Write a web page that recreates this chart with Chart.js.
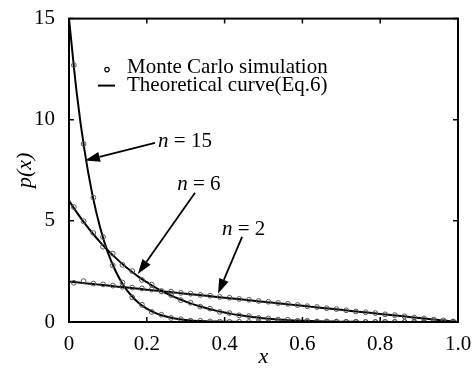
<!DOCTYPE html>
<html>
<head>
<meta charset="utf-8">
<script src="https://cdn.jsdelivr.net/npm/chart.js@4.4.1/dist/chart.umd.min.js"></script>
<style>
  html, body { margin: 0; padding: 0; background: #fff; }
  canvas { display: block; }
</style>
</head>
<body>
<canvas id="myChart" width="474" height="368"></canvas>
<script>
// bin centres of the Monte Carlo histogram
const xSim = [0.0125, 0.0375, 0.0625, 0.0875, 0.1125, 0.1375, 0.1625, 0.1875, 0.2125, 0.2375,
  0.2625, 0.2875, 0.3125, 0.3375, 0.3625, 0.3875, 0.4125, 0.4375, 0.4625, 0.4875,
  0.5125, 0.5375, 0.5625, 0.5875, 0.6125, 0.6375, 0.6625, 0.6875, 0.7125, 0.7375,
  0.7625, 0.7875, 0.8125, 0.8375, 0.8625, 0.8875, 0.9125, 0.9375, 0.9625, 0.9875];
const simN15 = [12.70, 8.80, 6.15, 4.20, 2.80, 1.95, 1.22, 0.85, 0.50, 0.36,
  0.20, 0.14, 0.07, 0.06, 0.03, 0.02, 0.01, 0.01, 0, 0,
  0, 0, 0, 0, 0, 0, 0, 0, 0, 0,
  0, 0, 0, 0, 0, 0, 0, 0, 0, 0];
const simN6 = [5.68, 4.98, 4.40, 3.72, 3.38, 2.82, 2.52, 2.08, 1.85, 1.52,
  1.33, 1.08, 0.95, 0.76, 0.66, 0.50, 0.44, 0.33, 0.29, 0.20,
  0.18, 0.12, 0.11, 0.06, 0.06, 0.03, 0.03, 0.02, 0.01, 0.01,
  0, 0, 0, 0, 0, 0, 0, 0, 0, 0];
const simN2 = [1.94, 2.02, 1.90, 1.86, 1.80, 1.74, 1.70, 1.66, 1.60, 1.52,
  1.50, 1.44, 1.40, 1.34, 1.30, 1.24, 1.20, 1.14, 1.10, 1.04,
  1.00, 0.94, 0.90, 0.84, 0.78, 0.74, 0.68, 0.64, 0.58, 0.52,
  0.48, 0.44, 0.38, 0.34, 0.28, 0.22, 0.18, 0.12, 0.08, 0.03];

// theoretical curve (Eq.6)
const xTheory = [0, 0.02, 0.04, 0.06, 0.08, 0.10, 0.12, 0.14, 0.16, 0.18,
  0.20, 0.22, 0.24, 0.26, 0.28, 0.30, 0.32, 0.34, 0.36, 0.38,
  0.40, 0.42, 0.44, 0.46, 0.48, 0.50, 0.52, 0.54, 0.56, 0.58,
  0.60, 0.62, 0.64, 0.66, 0.68, 0.70, 0.72, 0.74, 0.76, 0.78,
  0.80, 0.82, 0.84, 0.86, 0.88, 0.90, 0.92, 0.94, 0.96, 0.98, 1.00];
const theoryN15 = [15, 11.30, 8.47, 6.31, 4.67, 3.43, 2.51, 1.82, 1.31, 0.93,
  0.66, 0.46, 0.32, 0.22, 0.15, 0.10, 0.068, 0.045, 0.029, 0.019,
  0.012, 0.007, 0.004, 0.002, 0.001, 0, 0, 0, 0, 0,
  0, 0, 0, 0, 0, 0, 0, 0, 0, 0,
  0, 0, 0, 0, 0, 0, 0, 0, 0, 0, 0];
const theoryN6 = [6, 5.42, 4.89, 4.40, 3.95, 3.54, 3.17, 2.82, 2.51, 2.22,
  1.97, 1.73, 1.52, 1.33, 1.16, 1.01, 0.87, 0.75, 0.64, 0.55,
  0.47, 0.39, 0.33, 0.28, 0.23, 0.19, 0.15, 0.12, 0.099, 0.078,
  0.061, 0.048, 0.036, 0.027, 0.020, 0.015, 0.010, 0.007, 0.005, 0.003,
  0.002, 0.001, 0.001, 0, 0, 0, 0, 0, 0, 0, 0];
const theoryN2 = [2, 1.96, 1.92, 1.88, 1.84, 1.80, 1.76, 1.72, 1.68, 1.64,
  1.60, 1.56, 1.52, 1.48, 1.44, 1.40, 1.36, 1.32, 1.28, 1.24,
  1.20, 1.16, 1.12, 1.08, 1.04, 1.00, 0.96, 0.92, 0.88, 0.84,
  0.80, 0.76, 0.72, 0.68, 0.64, 0.60, 0.56, 0.52, 0.48, 0.44,
  0.40, 0.36, 0.32, 0.28, 0.24, 0.20, 0.16, 0.12, 0.08, 0.04, 0];

const xTickLabels = ['0', '0.2', '0.4', '0.6', '0.8', '1.0'];
const yTickLabels = ['0', '5', '10', '15'];
const curveNames = ['15', '6', '2'];

const serif = "'Liberation Serif', 'Times New Roman', serif";

// where the "n = .." labels and their arrows sit, in data units
const callouts = [
  { tx: 0.229, ty: 8.9, from: [0.221, 8.86], to: [0.041, 7.98] },
  { tx: 0.278, ty: 6.82, from: [0.324, 6.39], to: [0.177, 2.37] },
  { tx: 0.393, ty: 4.55, from: [0.445, 4.21], to: [0.383, 1.40] }
];

function pts(xs, ys) {
  return xs.map((x, i) => ({ x: x, y: ys[i] }));
}

function arrow(c, x1, y1, x2, y2) {
  const ang = Math.atan2(y2 - y1, x2 - x1);
  const len = 15, half = 5;
  const bx = x2 - len * Math.cos(ang), by = y2 - len * Math.sin(ang);
  c.beginPath();
  c.moveTo(x1, y1);
  c.lineTo(bx, by);
  c.lineWidth = 1.8;
  c.stroke();
  c.beginPath();
  c.moveTo(x2, y2);
  c.lineTo(bx + half * Math.sin(ang), by - half * Math.cos(ang));
  c.lineTo(bx - half * Math.sin(ang), by + half * Math.cos(ang));
  c.closePath();
  c.fill();
}

const decorations = {
  id: 'decorations',
  afterDraw(chart) {
    const c = chart.ctx;
    const a = chart.chartArea;
    const xs = chart.scales.x, ys = chart.scales.y;
    c.save();
    c.strokeStyle = '#000';
    c.fillStyle = '#000';

    // frame
    c.lineWidth = 2;
    c.strokeRect(a.left, a.top, a.right - a.left, a.bottom - a.top);

    // inward ticks on all four sides
    c.lineWidth = 1.5;
    c.beginPath();
    xs.ticks.forEach(t => {
      const p = xs.getPixelForValue(t.value);
      c.moveTo(p, a.bottom); c.lineTo(p, a.bottom - 5);
      c.moveTo(p, a.top); c.lineTo(p, a.top + 5);
    });
    ys.ticks.forEach(t => {
      const p = ys.getPixelForValue(t.value);
      c.moveTo(a.left, p); c.lineTo(a.left + 5, p);
      c.moveTo(a.right, p); c.lineTo(a.right - 5, p);
    });
    c.stroke();

    // legend
    const lx = a.left + 38, ly = a.top + 51;
    c.lineWidth = 1.2;
    c.beginPath();
    c.arc(lx, ly, 2.2, 0, Math.PI * 2);
    c.stroke();
    c.lineWidth = 2;
    c.beginPath();
    c.moveTo(lx - 9, ly + 16); c.lineTo(lx + 8, ly + 16);
    c.stroke();
    c.font = '21px ' + serif;
    c.textBaseline = 'middle';
    c.textAlign = 'left';
    c.fillText('Monte Carlo simulation', lx + 20, ly - 2);
    c.fillText('Theoretical curve(Eq.6)', lx + 20, ly + 16);

    // n = .. callouts
    callouts.forEach((o, i) => {
      const tx = xs.getPixelForValue(o.tx), ty = ys.getPixelForValue(o.ty);
      c.font = 'italic 21px ' + serif;
      c.fillText('n', tx, ty);
      const w = c.measureText('n').width;
      c.font = '21px ' + serif;
      c.fillText(' = ' + curveNames[i], tx + w, ty);
      arrow(c, xs.getPixelForValue(o.from[0]), ys.getPixelForValue(o.from[1]),
        xs.getPixelForValue(o.to[0]), ys.getPixelForValue(o.to[1]));
    });

    // axis titles
    c.font = 'italic 22px ' + serif;
    c.textAlign = 'center';
    c.fillText('x', (a.left + a.right) / 2, a.bottom + 35);
    c.translate(a.left - 44, (a.top + a.bottom) / 2);
    c.rotate(-Math.PI / 2);
    c.fillText('p(x)', 0, 0);
    c.restore();
  }
};

const lineStyle = { showLine: true, pointRadius: 0, borderColor: '#000', borderWidth: 2,
  cubicInterpolationMode: 'monotone', order: 2 };
const dotStyle = { showLine: false, pointRadius: 2.4, pointBorderWidth: 1,
  pointBorderColor: '#555', pointBackgroundColor: 'rgba(0,0,0,0)', order: 1 };

new Chart(document.getElementById('myChart'), {
  type: 'scatter',
  data: {
    datasets: [
      Object.assign({ label: 'n=15 theory', data: pts(xTheory, theoryN15) }, lineStyle),
      Object.assign({ label: 'n=6 theory', data: pts(xTheory, theoryN6) }, lineStyle),
      Object.assign({ label: 'n=2 theory', data: pts(xTheory, theoryN2) }, lineStyle),
      Object.assign({ label: 'n=15 MC', data: pts(xSim, simN15) }, dotStyle),
      Object.assign({ label: 'n=6 MC', data: pts(xSim, simN6) }, dotStyle),
      Object.assign({ label: 'n=2 MC', data: pts(xSim, simN2) }, dotStyle)
    ]
  },
  options: {
    responsive: false,
    animation: false,
    devicePixelRatio: 1,
    layout: { padding: { top: 12, right: 16, left: 0, bottom: 0 } },
    plugins: { legend: { display: false }, tooltip: { enabled: false } },
    scales: {
      x: {
        type: 'linear', min: 0, max: 1,
        grid: { display: false },
        border: { display: false },
        ticks: {
          stepSize: 0.2, padding: 2, color: '#000', maxRotation: 0,
          font: { family: serif, size: 21 },
          callback: (v, i) => xTickLabels[i]
        },
        afterFit: s => { s.height = 46; }
      },
      y: {
        min: 0, max: 15,
        grid: { display: false },
        border: { display: false },
        ticks: {
          stepSize: 5, padding: 6, color: '#000',
          font: { family: serif, size: 21 },
          callback: (v, i) => yTickLabels[i]
        },
        afterFit: s => { s.width = 69; }
      }
    }
  },
  plugins: [decorations]
});
</script>
</body>
</html>
